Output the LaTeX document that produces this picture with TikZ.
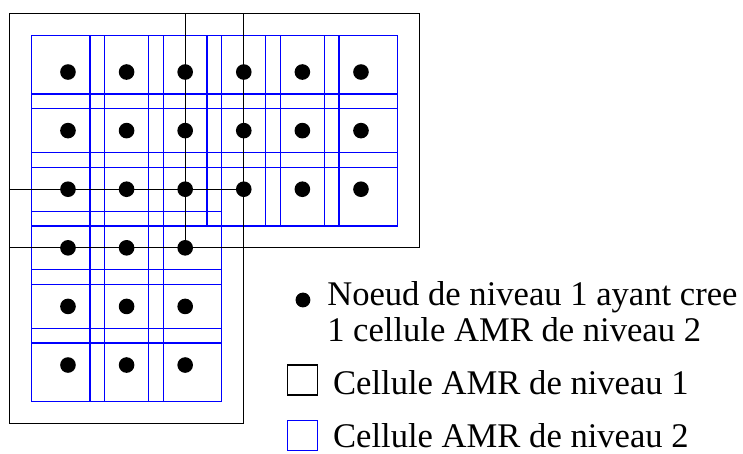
\documentclass[tikz,border=0pt]{standalone}
\usepackage{fontspec}
\setmainfont{Liberation Serif}
\usepackage{xcolor}
\usepackage{tikz}
\usetikzlibrary{positioning}
\definecolor{amrblue}{RGB}{0, 0, 255}
\tikzset{
    cellone/.style={rectangle, draw=black, line width=0.8pt, minimum size=6cm, inner sep=0pt, outer sep=0pt},
    celltwo/.style={rectangle, draw=amrblue, line width=1pt, minimum size=1.875cm, inner sep=0pt, outer sep=0pt},
    dotnode/.style={circle, fill=black, minimum size=0.4cm, inner sep=0pt}
}

\begin{document}
\begin{tikzpicture}[
        x=1.5cm, y=1.5cm,
        legtext/.style={anchor=base west, inner sep=0pt, font=\rmfamily\fontsize{25.2}{26}\selectfont}
    ]
    \useasboundingbox (-1.160,-6.502) rectangle (11.519,1.229);
    % --- Cellules AMR de niveau 2 ---
    \foreach \i in {0,...,5}
        \foreach \j in {0,1,2}
            \node[celltwo] (b-\i-\j) at (\i,-\j) {};
    \foreach \i in {0,1,2}
        \foreach \j in {3,4,5}
            \node[celltwo] (b-\i-\j) at (\i,-\j) {};
    % --- Cellules AMR de niveau 1 ---
    \node[cellone] (c1) at (1,-1) {};
    \node[cellone] (c2) at (4,-1) {};
    \node[cellone] (c3) at (1,-4) {};
    % --- Noeuds de niveau 1 ---
    \foreach \i in {0,...,5}
        \foreach \j in {0,1,2}
            \node[dotnode] (n-\i-\j) at (\i,-\j) {};
    \foreach \i in {0,1,2}
        \foreach \j in {3,4,5}
            \node[dotnode] (n-\i-\j) at (\i,-\j) {};
    % --- Legende ---
    \node[dotnode, minimum size=0.38cm] (legdot) at (4.01,-3.89) {};
    \node[legtext] (leg1) at (4.42,-3.99) {Noeud de niveau 1 ayant cree};
    \node[legtext] (leg2) at ([yshift=-0.92cm]leg1.base west) {1 cellule AMR de niveau 2};
    \node[cellone, minimum size=0.768cm] (legone) at (3.995,-5.255) {};
    \node[legtext] (leg3) at (4.52,-5.51) {Cellule AMR de niveau 1};
    \node[celltwo, line width=0.8pt, minimum size=0.768cm] (legtwo) at (3.995,-6.2) {};
    \node[legtext] (leg4) at (4.52,-6.41) {Cellule AMR de niveau 2};
\end{tikzpicture}
\end{document}
